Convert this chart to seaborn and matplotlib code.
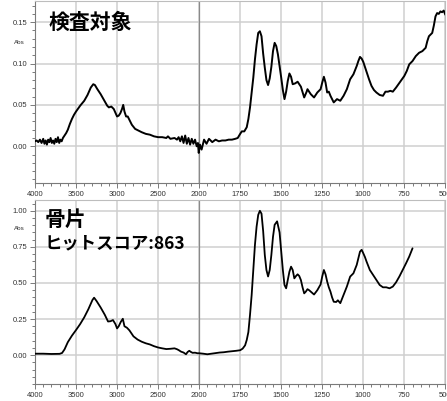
import numpy as np
import pandas as pd
import matplotlib
matplotlib.use('Agg')
import matplotlib.pyplot as plt
import matplotlib.ticker as mticker
import seaborn as sns

#Daten
top_wn = [4000, 3980, 3960, 3940, 3920, 3900, 3885, 3870, 3855, 3840, 3825, 3810, 3795, 3780, 3765,
          3750, 3735, 3720, 3705, 3690, 3675, 3660, 3640, 3620, 3600, 3575, 3550, 3525, 3500, 3450,
          3400, 3360, 3320, 3290, 3270, 3240, 3200, 3160, 3120, 3100, 3070, 3040, 3000, 2980, 2960,
          2940, 2925, 2910, 2890, 2870, 2850, 2820, 2780, 2740, 2700, 2650, 2600, 2550, 2500, 2450,
          2400, 2380, 2350, 2300, 2270, 2250, 2230, 2210, 2190, 2170, 2150, 2130, 2110, 2090, 2070,
          2050, 2030, 2015, 2005, 1995, 1985, 1970, 1955, 1940, 1920, 1900, 1880, 1860, 1840, 1820,
          1800, 1780, 1765, 1750, 1740, 1725, 1710, 1700, 1690, 1680, 1670, 1660, 1650, 1640, 1630,
          1620, 1610, 1600, 1590, 1580, 1570, 1560, 1550, 1540, 1530, 1520, 1510, 1500, 1490, 1480,
          1470, 1460, 1450, 1440, 1430, 1415, 1400, 1380, 1360, 1345, 1340, 1320, 1300, 1280, 1260,
          1250, 1240, 1230, 1220, 1210, 1200, 1180, 1160, 1140, 1120, 1100, 1080, 1060, 1040, 1030,
          1020, 1010, 1000, 990, 980, 965, 950, 935, 920, 900, 880, 865, 850, 835, 820,
          800, 775, 750, 735, 720, 700, 680, 660, 640, 620, 610, 600, 580, 570, 560,
          550, 540, 530, 520, 510, 500]
top_abs = [0.006, 0.007, 0.005, 0.008, 0.004, 0.009, 0.003, 0.007, 0.002, 0.008, 0.005, 0.010, 0.004, 0.007, 0.003,
           0.009, 0.005, 0.011, 0.004, 0.008, 0.006, 0.010, 0.013, 0.016, 0.020, 0.027, 0.033, 0.038, 0.042, 0.049,
           0.055, 0.062, 0.071, 0.075, 0.074, 0.069, 0.063, 0.056, 0.049, 0.047, 0.048, 0.045, 0.036, 0.037, 0.040,
           0.045, 0.050, 0.042, 0.036, 0.036, 0.032, 0.026, 0.021, 0.019, 0.017, 0.015, 0.014, 0.012, 0.011, 0.011,
           0.010, 0.012, 0.009, 0.010, 0.008, 0.011, 0.006, 0.012, 0.004, 0.013, 0.003, 0.010, 0.002, 0.009, 0.003,
           0.008, 0.000, 0.004, -0.008, 0.002, -0.004, 0.008, 0.003, 0.009, 0.005, 0.008, 0.006, 0.007, 0.007, 0.008,
           0.008, 0.009, 0.010, 0.015, 0.018, 0.018, 0.023, 0.033, 0.047, 0.065, 0.083, 0.105, 0.123, 0.137, 0.139,
           0.133, 0.112, 0.095, 0.080, 0.074, 0.082, 0.096, 0.115, 0.125, 0.121, 0.111, 0.097, 0.083, 0.068, 0.057,
           0.066, 0.079, 0.088, 0.084, 0.075, 0.076, 0.078, 0.072, 0.059, 0.066, 0.069, 0.063, 0.059, 0.065, 0.069,
           0.077, 0.084, 0.077, 0.065, 0.066, 0.061, 0.053, 0.057, 0.055, 0.061, 0.069, 0.081, 0.087, 0.097, 0.103,
           0.108, 0.106, 0.102, 0.096, 0.090, 0.081, 0.073, 0.068, 0.065, 0.062, 0.061, 0.066, 0.066, 0.067, 0.066,
           0.071, 0.078, 0.085, 0.091, 0.099, 0.103, 0.109, 0.113, 0.115, 0.119, 0.127, 0.133, 0.137, 0.146, 0.157,
           0.161, 0.160, 0.163, 0.162, 0.164, 0.159]

bot_wn = [4000, 3900, 3800, 3700, 3670, 3640, 3600, 3550, 3500, 3450, 3400, 3350, 3300, 3280, 3250,
          3200, 3150, 3110, 3080, 3050, 3020, 3000, 2980, 2955, 2930, 2910, 2880, 2850, 2800, 2750,
          2700, 2650, 2600, 2550, 2500, 2450, 2400, 2350, 2300, 2270, 2250, 2220, 2190, 2160, 2140,
          2120, 2100, 2080, 2050, 2020, 2000, 1975, 1950, 1925, 1900, 1875, 1850, 1825, 1800, 1775,
          1750, 1735, 1720, 1710, 1700, 1690, 1680, 1670, 1660, 1650, 1640, 1630, 1620, 1610, 1600,
          1590, 1580, 1570, 1560, 1550, 1540, 1525, 1510, 1500, 1490, 1480, 1470, 1460, 1450, 1440,
          1430, 1420, 1410, 1400, 1390, 1380, 1370, 1360, 1350, 1340, 1330, 1320, 1300, 1290, 1280,
          1260, 1250, 1240, 1230, 1220, 1210, 1200, 1190, 1180, 1165, 1155, 1140, 1120, 1100, 1080,
          1060, 1040, 1030, 1020, 1010, 1000, 990, 980, 960, 940, 920, 900, 880, 860, 840,
          820, 800, 780, 760, 740, 720, 700]
bot_abs = [0.010, 0.010, 0.008, 0.009, 0.015, 0.040, 0.090, 0.135, 0.174, 0.215, 0.262, 0.318, 0.382, 0.398, 0.375,
           0.330, 0.280, 0.233, 0.235, 0.243, 0.215, 0.185, 0.200, 0.230, 0.252, 0.200, 0.190, 0.172, 0.130, 0.108,
           0.093, 0.082, 0.074, 0.062, 0.053, 0.047, 0.042, 0.044, 0.047, 0.041, 0.035, 0.024, 0.018, 0.006, 0.022,
           0.030, 0.022, 0.016, 0.017, 0.013, 0.013, 0.010, 0.006, 0.010, 0.014, 0.018, 0.020, 0.024, 0.027, 0.030,
           0.034, 0.045, 0.068, 0.105, 0.160, 0.280, 0.417, 0.590, 0.764, 0.890, 0.972, 1.000, 0.980, 0.860, 0.694,
           0.590, 0.545, 0.590, 0.694, 0.820, 0.903, 0.927, 0.850, 0.717, 0.590, 0.486, 0.463, 0.520, 0.578, 0.613,
           0.590, 0.532, 0.548, 0.560, 0.548, 0.520, 0.470, 0.428, 0.440, 0.457, 0.450, 0.440, 0.420, 0.435, 0.450,
           0.490, 0.545, 0.590, 0.560, 0.510, 0.470, 0.440, 0.400, 0.370, 0.368, 0.380, 0.360, 0.417, 0.475, 0.544,
           0.567, 0.625, 0.670, 0.717, 0.730, 0.706, 0.680, 0.648, 0.590, 0.555, 0.520, 0.486, 0.470, 0.470, 0.463,
           0.475, 0.505, 0.545, 0.590, 0.635, 0.683, 0.740]

x_major = [4000, 3500, 3000, 2500, 2000, 1750, 1500, 1250, 1000, 750, 500]
x_minor = list(range(3900, 2000, -100)) + list(range(1950, 500, -50))

#Stil
sns.set_theme(style='white')
plt.rcParams['font.family'] = ['Liberation Sans', 'Noto Sans CJK JP']

#Skala mit Bruch bei 2000 (links halbe Auflösung)
def fwd(w):
    w = np.asarray(w, dtype=float)
    return np.where(w > 2000, 2000 + (w - 2000) / 2.0, w)

def inv(p):
    p = np.asarray(p, dtype=float)
    return np.where(p > 2000, 2000 + (p - 2000) * 2.0, p)

def style_axis(ax, ylim, ymajor, yminor, abs_y):
    ax.set_xscale('function', functions=(fwd, inv))
    ax.set_xlim(4000, 500)
    ax.set_ylim(*ylim)
    ax.xaxis.set_major_locator(mticker.FixedLocator(x_major))
    ax.xaxis.set_minor_locator(mticker.FixedLocator(x_minor))
    ax.xaxis.set_major_formatter(mticker.FuncFormatter(lambda v, p: '%d' % round(v)))
    ax.xaxis.set_minor_formatter(mticker.NullFormatter())
    ax.yaxis.set_major_locator(mticker.MultipleLocator(ymajor))
    ax.yaxis.set_minor_locator(mticker.MultipleLocator(yminor))
    ax.yaxis.set_major_formatter(mticker.FormatStrFormatter('%.2f'))
    ax.grid(True, which='major', color='#cfcfcf', lw=1.1)
    ax.axvline(2000, color='#8a8a8a', lw=0.9, zorder=1)
    for s in ['top', 'right']:
        ax.spines[s].set_color('#bdbdbd')
        ax.spines[s].set_linewidth(0.8)
    for s in ['left', 'bottom']:
        ax.spines[s].set_color('#7a7a7a')
        ax.spines[s].set_linewidth(0.8)
    ax.tick_params(which='both', direction='out', color='#7a7a7a', width=0.7,
                   labelsize=5.5, labelcolor='#333333', bottom=True, left=True)
    ax.tick_params(which='major', length=3.5, pad=2)
    ax.tick_params(which='minor', length=2.5)
    ax.set_xlabel('')
    ax.set_ylabel('')
    ax.text(-0.037, abs_y, 'Abs', transform=ax.get_yaxis_transform(), ha='center', va='center',
            fontsize=4.5, color='#333333')

fig = plt.figure(figsize=(4.47, 4.01), dpi=100)
ax1 = fig.add_axes([0.0783, 0.5424, 0.918, 0.4539])
ax2 = fig.add_axes([0.0783, 0.0424, 0.918, 0.4589])

df_top = pd.DataFrame({'wn': top_wn, 'abs': top_abs})
df_bot = pd.DataFrame({'wn': bot_wn, 'abs': bot_abs})

sns.lineplot(data=df_top, x='wn', y='abs', ax=ax1, color='black', lw=1.4, sort=False, estimator=None, zorder=3)
sns.lineplot(data=df_bot, x='wn', y='abs', ax=ax2, color='black', lw=1.3, sort=False, estimator=None, zorder=3)

style_axis(ax1, (-0.045, 0.175), 0.05, 0.01, 0.125)
style_axis(ax2, (-0.2, 1.075), 0.25, 0.05, 0.875)

title_font = dict(family=['Noto Sans CJK JP', 'DejaVu Sans'], fontweight='bold', color='black')
ax1.text(0.034, 0.885, '検査対象', transform=ax1.transAxes, ha='left', va='center', fontsize=15, **title_font)
ax2.text(0.024, 0.897, '骨片', transform=ax2.transAxes, ha='left', va='center', fontsize=15, **title_font)
ax2.text(0.024, 0.766, 'ヒットスコア:863', transform=ax2.transAxes, ha='left', va='center', fontsize=12.5, **title_font)

fig.savefig('out.png', dpi=100)
